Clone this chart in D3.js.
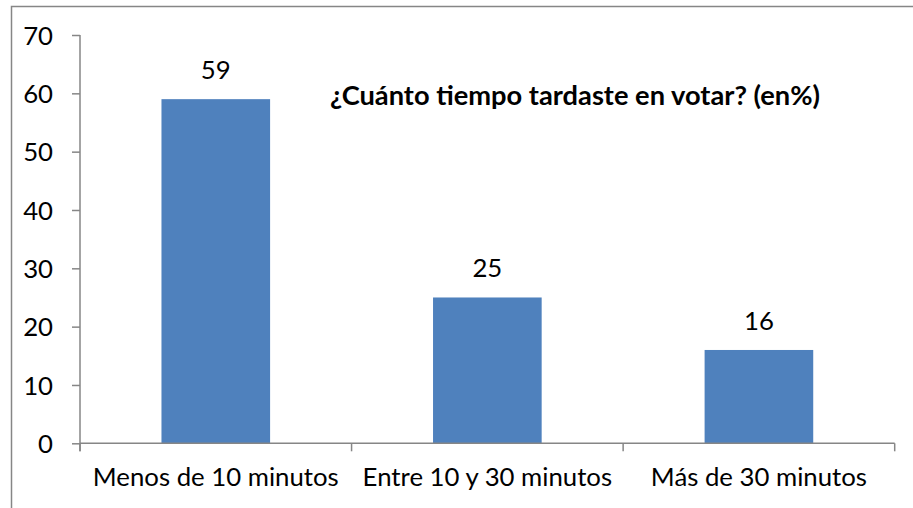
<!DOCTYPE html>
<html>
<head>
<meta charset="utf-8">
<script src="https://cdn.jsdelivr.net/npm/d3@7"></script>
<style>
  body { margin: 0; background: #fff; }
  text { font-family: Lato, "Open Sans", sans-serif; fill: #000; }
</style>
</head>
<body>
<div id="chart"></div>
<script>
/**
 * DATA
 * */
const categories = ["Menos de 10 minutos", "Entre 10 y 30 minutos", "Más de 30 minutos"];
const values = [59, 25, 16];
const yTicks = [0, 10, 20, 30, 40, 50, 60, 70];
const title = "¿Cuánto tiempo tardaste en votar? (en%)";

/**
 * CONSTANTS
 * */
const width = 913,
  height = 508,
  margin = { top: 35, bottom: 64.7, left: 80, right: 18.3 };

const svg = d3.select("#chart")
  .append("svg")
  .attr("width", width)
  .attr("height", height);

// outer frame (right/bottom edges fall outside the picture)
svg.append("rect")
  .attr("x", 11.5)
  .attr("y", 6.5)
  .attr("width", width + 10)
  .attr("height", height + 10)
  .attr("fill", "none")
  .attr("stroke", "#868686")
  .attr("stroke-width", 1.5);

const x = d3.scaleBand()
  .domain(categories)
  .range([margin.left, width - margin.right])
  .paddingInner(0.6)
  .paddingOuter(0.3);

const y = d3.scaleLinear()
  .domain([0, 70])
  .range([height - margin.bottom, margin.top]);

const axisColor = "#868686";

// pick a font size so the label width matches the Calibri original
const probe = svg.append("text").style("font-size", "100px").text(categories[0]);
const fontSize = 100 * 246 / probe.node().getComputedTextLength();
probe.style("font-weight", "bold").text(title);
const titleSize = 100 * 490 / probe.node().getComputedTextLength();
probe.remove();

// bars
svg.selectAll(".bar")
  .data(values)
  .join("rect")
  .attr("class", "bar")
  .attr("x", (d, i) => x(categories[i]))
  .attr("y", d => y(d))
  .attr("width", x.bandwidth())
  .attr("height", d => y(0) - y(d))
  .attr("fill", "#4F81BD");

// value labels
svg.selectAll(".val")
  .data(values)
  .join("text")
  .attr("class", "val")
  .attr("x", (d, i) => x(categories[i]) + x.bandwidth() / 2)
  .attr("y", d => y(d) - 20)
  .attr("text-anchor", "middle")
  .style("font-size", fontSize + "px")
  .text(d => d);

// y axis
const yAxis = svg.append("g")
  .attr("transform", `translate(${margin.left},0)`)
  .call(d3.axisLeft(y).tickValues(yTicks).tickSize(8).tickPadding(19).tickSizeOuter(0));
yAxis.select(".domain").attr("stroke", axisColor).attr("stroke-width", 1.5)
  .attr("d", `M0,${y(70)}V${y(0) + 8}`);
yAxis.selectAll(".tick line").attr("stroke", axisColor).attr("stroke-width", 1.5);
yAxis.selectAll(".tick text")
  .style("font-size", fontSize + "px")
  .attr("fill", "#000")
  .attr("dy", "0.35em");

// x axis with ticks at category boundaries
const xAxis = svg.append("g")
  .attr("transform", `translate(0,${y(0)})`)
  .call(d3.axisBottom(x).tickSize(0));
xAxis.select(".domain").attr("stroke", axisColor).attr("stroke-width", 1.5)
  .attr("d", `M${margin.left},0H${width - margin.right}`);
xAxis.selectAll(".tick text")
  .style("font-size", fontSize + "px")
  .attr("fill", "#000")
  .attr("y", 43)
  .attr("dy", null);

const bounds = categories.map((c, i) => margin.left + i * x.step());
bounds.push(width - margin.right);
xAxis.selectAll(".bound")
  .data(bounds)
  .join("line")
  .attr("class", "bound")
  .attr("x1", d => d).attr("x2", d => d)
  .attr("y1", 0).attr("y2", 8)
  .attr("stroke", axisColor)
  .attr("stroke-width", 1.5);

// title
svg.append("text")
  .attr("x", 330)
  .attr("y", 105)
  .style("font-size", titleSize + "px")
  .style("font-weight", "bold")
  .text(title);
</script>
</body>
</html>
